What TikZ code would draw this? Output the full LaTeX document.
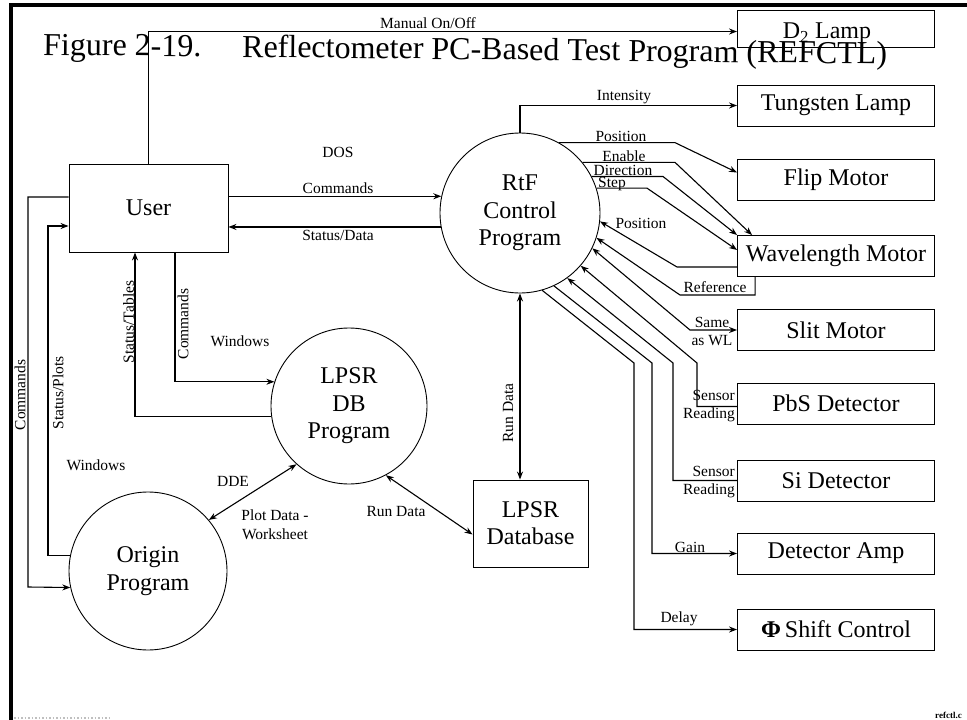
\documentclass[tikz,border=0pt]{standalone}
\usepackage{fontspec}
\setmainfont{Liberation Serif}
\usetikzlibrary{arrows.meta,calc}
\begin{document}
\begin{tikzpicture}[x=1pt,y=-1pt,
  box/.style={draw, line width=0.9pt, minimum width=197pt, minimum height=41pt, inner sep=0pt, font=\fontsize{24}{27}\selectfont},
  proc/.style={draw, circle, line width=0.9pt, inner sep=0pt, align=center, font=\fontsize{24}{27.5}\selectfont},
  lbl/.style={font=\fontsize{15.5}{18}\selectfont, inner sep=1pt},
  conn/.style={line width=1.1pt},
  arr/.style={conn, -{Stealth[length=8pt,width=6pt]}},
  darr/.style={conn, {Stealth[length=8pt,width=6pt]}-{Stealth[length=8pt,width=6pt]}}]
\clip (0,0) rectangle (967,720);
% frame
\draw[line width=4pt] (11,720) -- (11,5) -- (967,5);
\draw[gray!50, dotted, line width=1.5pt] (14,718) -- (110,718);
% title (slightly tilted as in the scan)
\begin{scope}[rotate around={-0.6:(43,55)}]
\node[anchor=base west, inner sep=0pt, transform shape, font=\fontsize{32}{36}\selectfont] (t1) at (43,55) {Figure 2-19.};
\node[anchor=base west, inner sep=0pt, transform shape, font=\fontsize{32}{36}\selectfont] (t2) at (242,55) {Reflectometer PC-Based Test Program (REFCTL)};
\end{scope}
% right boxes
\node[box, minimum height=37pt] (d2) at (836,28.5) {};
\node[inner sep=0pt, font=\fontsize{24}{27}\selectfont] (d2t) at ($(d2.center)+(-9,5)$) {D\textsubscript{2} Lamp};
\node[box] (tung) at (836,105.5) {Tungsten Lamp};
\node[box] (flip) at (836,179.5) {Flip Motor};
\node[box] (wl) at (836,256) {Wavelength Motor};
\node[box] (slit) at (836,330) {Slit Motor};
\node[box] (pbs) at (836,403.5) {PbS Detector};
\node[box] (si) at (836,480.5) {Si Detector};
\node[box] (amp) at (836,553.5) {Detector Amp};
\node[box] (phi) at (836,629.5) {\textbf{Φ}\,Shift Control};
% other nodes
\node[box, minimum width=159pt, minimum height=88pt] (user) at (148.5,208) {User};
\node[box, minimum width=115pt, minimum height=87pt, align=center] (db) at (530.5,523.5) {LPSR\\Database};
\node[proc, minimum size=160pt] (rtf) at (520,213) {RtF\\Control\\Program};
\node[proc, minimum size=156pt] (dbp) at (349,406) {LPSR\\DB\\Program};
\node[proc, minimum size=158pt] (origin) at (148,571) {Origin\\Program};
% bend helpers
\coordinate (xa) at (675,0);
\coordinate (xb) at (663,0);
\coordinate (xc) at (647,0);
% Manual On/Off
\draw[arr] (user.north) |- ($(d2.west)+(0,3)$);
\node[lbl] (lman) at (428,23) {Manual On/Off};
% Intensity
\draw[arr] (rtf.north) |- (tung.west);
\node[lbl] (lint) at (624,97) {Intensity};
% Position to flip
\draw[arr] (rtf.61) -- (rtf.61 -| xa) -- ($(flip.west)+(0,-7)$);
\node[lbl, anchor=base] (lpos) at (621,141.5) {Position};
% Enable
\draw[arr] (rtf.39) -- (rtf.39 -| xa) -- ($(wl.north west)+(15,0)$);
\node[lbl, anchor=base] (len) at (624,161.5) {Enable};
% Direction
\draw[arr] (rtf.27) -- (rtf.27 -| xb) -- (wl.north west);
\node[lbl, anchor=base] (ldir) at (623,175.5) {Direction};
% Step
\draw[arr] (rtf.18) -- (rtf.18 -| xc) -- ($(wl.west)+(0,-6)$);
\node[lbl, anchor=base] (lstep) at (612,187) {Step};
% Position return
\draw[arr] ($(wl.west)+(0,11)$) -- (677,267) -- (rtf.-6);
\node[lbl] (lpos2) at (641,223) {Position};
% Reference
\draw[arr] ($(wl.south west)+(18,0)$) -- ++(0,18) -- (680,295) -- (rtf.-18);
\node[lbl] (lref) at (715,287) {Reference};
% Same as WL
\draw[darr] (rtf.-26) -- (690,330) -- (slit.west);
\node[lbl, align=center, font=\fontsize{15.5}{18}\selectfont] (lsame) at (712,331) {Same\\as WL};
% PbS
\draw[arr] ($(pbs.west)+(0,3)$) -| (697,363) -- (rtf.-41);
\node[lbl, align=right, anchor=east] (lpbs) at (736,406) {Sensor\\Reading};
% Si
\draw[arr] (si.west) -| (673,363) -- (rtf.-54);
\node[lbl, align=right, anchor=east] (lsi) at (736,482) {Sensor\\Reading};
% Gain
\draw[arr] (rtf.-65) -- (652,363) |- (amp.west);
\node[lbl, anchor=base] (lgain) at (690,552) {Gain};
% Delay
\draw[arr] (rtf.-74) -- (634,363) |- (phi.west);
\node[lbl, anchor=base] (ldel) at (679,622) {Delay};
% DOS link
\node[lbl, anchor=base] (ldos) at (338,157) {DOS};
\draw[arr] (user.east |- rtf.168) -- (rtf.168);
\node[lbl, anchor=base] (lcmd) at (338,193.5) {Commands};
\draw[arr] (rtf.190) -- (user.east |- rtf.190);
\node[lbl, anchor=base] (lsd) at (338,240) {Status/Data};
% Run Data vertical
\draw[darr] (rtf.south) -- (rtf.south |- db.north);
\node[lbl, rotate=90] (lrun1) at (508,413) {Run Data};
% Run Data diagonal
\draw[darr] (dbp.-62) -- ($(db.west)+(0,11)$);
\node[lbl] (lrun2) at (396,511) {Run Data};
% DDE
\draw[darr] (origin.40) -- (dbp.228);
\node[lbl] (ldde) at (233,481) {DDE};
\node[lbl, align=center, font=\fontsize{15.5}{19}\selectfont] (lplot) at (275,524.5) {Plot Data -\\Worksheet};
% Windows labels
\node[lbl] (lwin1) at (240,341) {Windows};
\node[lbl] (lwin2) at (96,465) {Windows};
% user <-> origin
\draw[arr] ($(user.west)+(0,-11)$) -| (28,587) -- (origin.192);
\node[lbl, rotate=90] (lcmd2) at (20,395) {Commands};
\draw[arr] (origin.169) -| (48,226) -- ($(user.west)+(0,18)$);
\node[lbl, rotate=90] (lsp) at (58,393) {Status/Plots};
% user <-> dbp
\draw[arr] (dbp.188) -| ($(user.south)+(-13.5,0)$);
\node[lbl, rotate=90] (lst) at (128.5,322) {Status/Tables};
\draw[arr] ($(user.south)+(26.5,0)$) |- (dbp.162);
\node[lbl, rotate=90] (lcmd3) at (183,324) {Commands};
% file tag
\node[anchor=north west, inner sep=0pt, font=\fontsize{9}{10}\selectfont\bfseries] (ftag) at (935,712) {refctl.c};
\end{tikzpicture}
\end{document}
